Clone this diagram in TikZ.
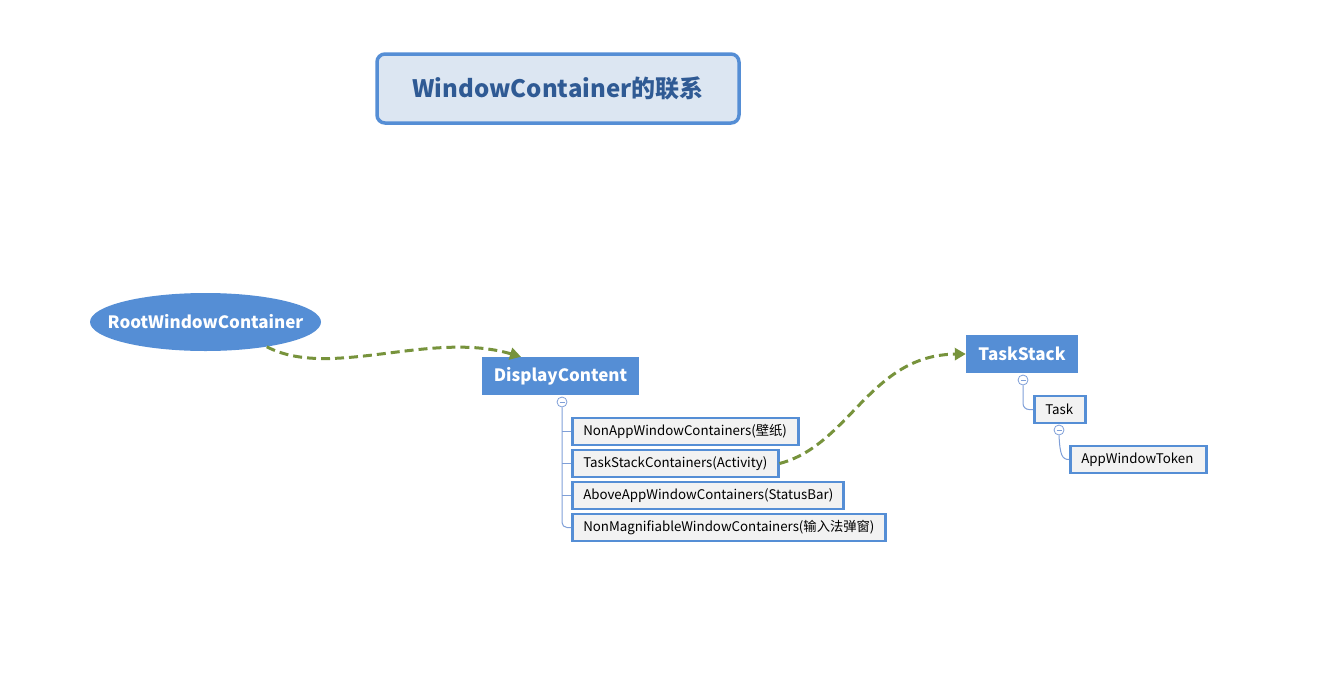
\documentclass[tikz,border=0pt]{standalone}
\usepackage{fontspec}
\setmainfont{Noto Sans CJK SC}
\usetikzlibrary{shapes.geometric,arrows.meta}
\definecolor{mblue}{HTML}{558ED5}
\definecolor{tfill}{HTML}{DCE6F2}
\definecolor{ttext}{HTML}{2F5A94}
\definecolor{agreen}{HTML}{77933C}
\definecolor{cfill}{HTML}{F2F2F2}
\definecolor{tline}{HTML}{7F9FD8}
\tikzset{
  x=1pt,y=-1pt,
  mainbox/.style={fill=mblue,text=white,font=\bfseries\fontsize{17}{20}\selectfont,inner sep=0pt},
  child/.style={draw=mblue,line width=2.5pt,fill=cfill,font=\fontsize{13.3}{15}\selectfont,inner xsep=11pt,inner ysep=0pt,minimum height=27pt,anchor=west,align=left},
  rel/.style={draw=agreen,line width=3pt,dash pattern=on 9pt off 5pt,-{Triangle[length=11pt,width=12pt]}},
  tree/.style={draw=tline,line width=1pt},
  fold/.style={circle,draw=tline,fill=white,line width=0.8pt,minimum size=10pt,inner sep=0pt,
    path picture={\draw[tline,line width=0.8pt] ([xshift=-2.5pt]path picture bounding box.center) -- ([xshift=2.5pt]path picture bounding box.center);}}
}
\begin{document}
\begin{tikzpicture}
\useasboundingbox (0,0) rectangle (1328,688);
\node[draw=mblue,line width=3.5pt,fill=tfill,rounded corners=8pt,minimum width=362pt,minimum height=69pt,inner sep=0pt,text=ttext,font=\bfseries\fontsize{24}{28}\selectfont] (title) at (558,88.5) {WindowContainer的联系};

\node[fill=mblue,ellipse,minimum width=231pt,minimum height=58pt,inner sep=0pt,
  label={[text=white,font=\bfseries\fontsize{17}{20}\selectfont]center:RootWindowContainer}] (root) at (205.5,322) {};
\node[mainbox,minimum width=157pt,minimum height=38pt] (dc) at (560.5,376) {DisplayContent};
\node[mainbox,minimum width=112pt,minimum height=38pt] (ts) at (1022,354) {TaskStack};

\node[child,text width=204pt] (c1) at (571,431.5) {NonAppWindowContainers(壁纸)};
\node[child,text width=184pt] (c2) at (571,463.5) {TaskStackContainers(Activity)};
\node[child,text width=249pt] (c3) at (571,495.5) {AboveAppWindowContainers(StatusBar)};
\node[child,text width=291pt] (c4) at (571,527.5) {NonMagnifiableWindowContainers(输入法弹窗)};

\node[child,text width=29pt] (task) at (1033,409.5) {Task};
\node[child,text width=114pt] (awt) at (1069,459.5) {AppWindowToken};

\node[fold] (f1) at (562,402) {};
\node[fold] (f2) at (1023,380) {};
\node[fold] (f3) at (1059,430) {};

\draw[tree,rounded corners=5pt] (f1.south) |- (c4.west);
\draw[tree] (562,431.5) -- (c1.west);
\draw[tree] (562,463.5) -- (c2.west);
\draw[tree] (562,495.5) -- (c3.west);
\draw[tree,rounded corners=6pt] (f2.south) |- (task.west);
\draw[tree] (f3.south) .. controls (1060,455) and (1062,459.5) .. (awt.west);

\draw[rel] (root.-22) .. controls (330,380) and (430,330) .. (dc.north west -| 521,357);
\draw[rel] (c2.east) .. controls (850,445) and (870,355) .. (ts.west);
\end{tikzpicture}
\end{document}
